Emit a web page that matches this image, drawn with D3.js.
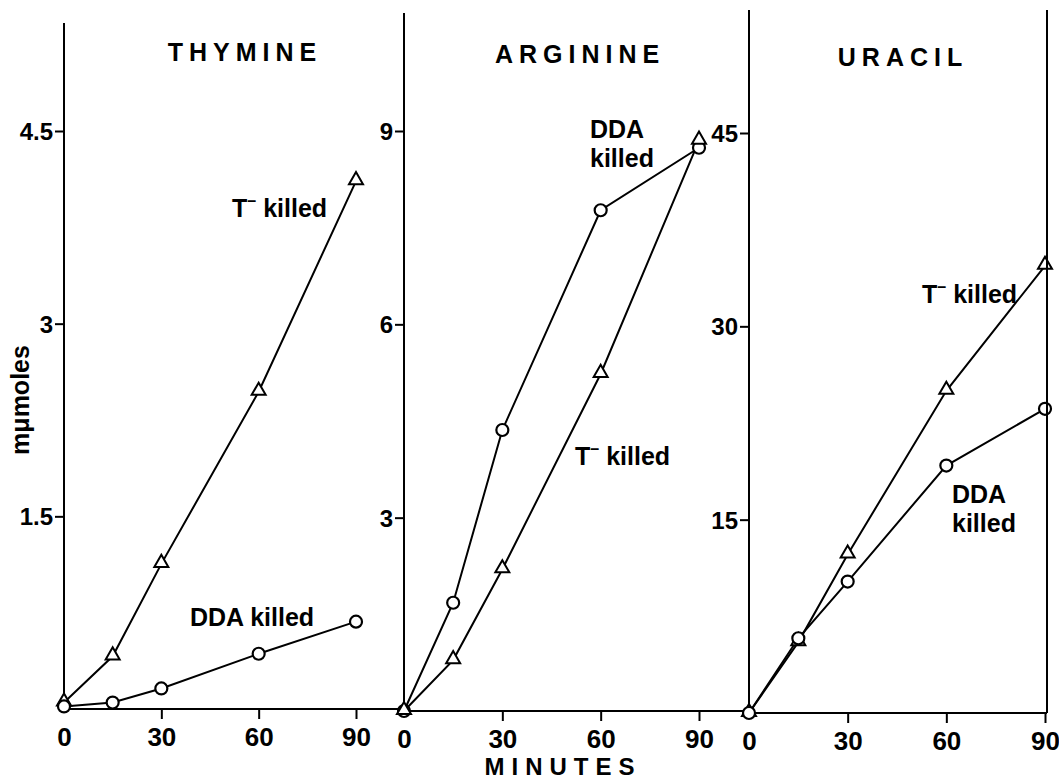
<!DOCTYPE html>
<html>
<head>
<meta charset="utf-8">
<script src="https://cdn.jsdelivr.net/npm/d3@7"></script>
<style>
  body { margin: 0; background: #fff; }
  svg text { font-family: "Liberation Sans", Arial, sans-serif; font-weight: bold; fill: #000; }
</style>
</head>
<body>
<script>
// minutes sampled
const minutes = [0, 15, 30, 60, 90];
const xTicks = [0, 30, 60, 90];

// THYMINE panel (mumoles)
const thymineT = [0.05, 0.41, 1.13, 2.47, 4.11];
const thymineDDA = [0.02, 0.05, 0.16, 0.43, 0.68];
const thymineTicks = [1.5, 3, 4.5];

// ARGININE panel
const arginineDDA = [0, 1.68, 4.36, 7.77, 8.74];
const arginineT = [0, 0.79, 2.2, 5.23, 8.85];
const arginineTicks = [3, 6, 9];

// URACIL panel
const uracilT = [0, 5.5, 12.3, 25.0, 34.7];
const uracilDDA = [0, 5.8, 10.2, 19.2, 23.6];
const uracilTicks = [15, 30, 45];

const W = 1059, H = 779;
const svg = d3.select("body").append("svg")
  .attr("width", W)
  .attr("height", H);

const panels = [
  {title: "THYMINE", titleX: 245, titleY: 61, x0: 64, x1: 356, y0: 709, yTop: 131, axTop: 23, max: 4.5,
   ticks: thymineTicks, fmt: d => d === 1.5 ? "1.5" : d3.format("")(d),
   series: [{vals: thymineT, mark: "tri"}, {vals: thymineDDA, mark: "circ"}],
   labels: [
     {lines: ["T|killed"], x: 232, y: 217},
     {lines: ["DDA killed"], x: 190, y: 626}
   ]},
  {title: "ARGININE", titleX: 580, titleY: 63, x0: 404, x1: 699, y0: 711, yTop: 131, axTop: 13, max: 9,
   ticks: arginineTicks, fmt: d3.format(""),
   series: [{vals: arginineDDA, mark: "circ"}, {vals: arginineT, mark: "tri"}],
   labels: [
     {lines: ["DDA", "killed"], x: 590, y: 138},
     {lines: ["T|killed"], x: 575, y: 465}
   ]},
  {title: "URACIL", titleX: 903, titleY: 66, x0: 749, x1: 1045, y0: 713, yTop: 133, axTop: 10, max: 45,
   ticks: uracilTicks, fmt: d3.format(""),
   series: [{vals: uracilT, mark: "tri"}, {vals: uracilDDA, mark: "circ"}],
   labels: [
     {lines: ["T|killed"], x: 922, y: 303},
     {lines: ["DDA", "killed"], x: 952, y: 503}
   ]}
];

panels.forEach((p, i) => {
  const x = d3.scaleLinear().domain([0, 90]).range([p.x0, p.x1]);
  const y = d3.scaleLinear().domain([0, p.max]).range([p.y0, p.yTop]);
  const g = svg.append("g");

  // y axis line, extended to the top of the frame
  g.append("line")
    .attr("x1", p.x0).attr("x2", p.x0)
    .attr("y1", p.y0).attr("y2", p.axTop)
    .attr("stroke", "#000").attr("stroke-width", 2);

  const yAxis = g.append("g")
    .attr("transform", `translate(${p.x0},0)`)
    .call(d3.axisLeft(y).tickValues(p.ticks).tickSize(9).tickPadding(2).tickFormat(p.fmt));
  yAxis.select(".domain").remove();
  yAxis.selectAll(".tick line").attr("stroke", "#000").attr("stroke-width", 2);
  yAxis.selectAll(".tick text")
    .style("font-size", "24px")
    .attr("dy", "0.36em");

  // x axis: baseline runs on to the next panel
  const xEnd = i < panels.length - 1 ? panels[i + 1].x0 : p.x1 + 2;
  g.append("line")
    .attr("x1", p.x0).attr("x2", xEnd)
    .attr("y1", p.y0).attr("y2", p.y0)
    .attr("stroke", "#000").attr("stroke-width", 2);

  const xAxis = g.append("g")
    .attr("transform", `translate(0,${p.y0})`)
    .call(d3.axisBottom(x).tickValues(xTicks).tickSize(10).tickPadding(9).tickFormat(d3.format("")));
  xAxis.select(".domain").remove();
  xAxis.selectAll(".tick line")
    .attr("stroke", d => d === 0 ? "none" : "#000")
    .attr("stroke-width", 2);
  xAxis.selectAll(".tick text").style("font-size", "26px");

  // title
  g.append("text")
    .attr("x", p.titleX).attr("y", p.titleY)
    .attr("text-anchor", "middle")
    .style("font-size", "25px")
    .style("letter-spacing", "6px")
    .text(p.title);

  // series
  const line = d3.line().x((d, j) => x(minutes[j])).y(d => y(d));
  p.series.forEach(s => {
    g.append("path")
      .datum(s.vals)
      .attr("d", line)
      .attr("fill", "none")
      .attr("stroke", "#000")
      .attr("stroke-width", 2);
  });
  p.series.forEach(s => {
    const pts = g.selectAll(null).data(s.vals).enter();
    if (s.mark === "circ") {
      pts.append("circle")
        .attr("cx", (d, j) => x(minutes[j]))
        .attr("cy", d => y(d))
        .attr("r", 6)
        .attr("fill", "#fff")
        .attr("stroke", "#000")
        .attr("stroke-width", 2.2);
    } else {
      pts.append("path")
        .attr("d", d3.symbol(d3.symbolTriangle, 85))
        .attr("transform", (d, j) => `translate(${x(minutes[j])},${y(d) - 1})`)
        .attr("fill", "#fff")
        .attr("stroke", "#000")
        .attr("stroke-width", 2);
    }
  });

  // curve labels
  p.labels.forEach(l => {
    l.lines.forEach((txt, k) => {
      const t = g.append("text")
        .attr("x", l.x).attr("y", l.y + k * 29)
        .style("font-size", "25px");
      if (txt.includes("|")) {
        const parts = txt.split("|");
        t.append("tspan").text(parts[0]);
        t.append("tspan").attr("dy", -11).style("font-size", "16px").text("\u2013");
        t.append("tspan").attr("dy", 11).attr("dx", 7).text(parts[1]);
      } else {
        t.text(txt);
      }
    });
  });
});

// right frame line of the last panel
svg.append("line")
  .attr("x1", 1047).attr("x2", 1047)
  .attr("y1", 10).attr("y2", 713)
  .attr("stroke", "#000").attr("stroke-width", 2);

// shared axis titles
svg.append("text")
  .attr("x", 563).attr("y", 775)
  .attr("text-anchor", "middle")
  .style("font-size", "24px")
  .style("letter-spacing", "7px")
  .text("MINUTES");

svg.append("text")
  .attr("transform", "translate(29,400) rotate(-90)")
  .attr("text-anchor", "middle")
  .style("font-size", "25px")
  .text("m\u03bcmoles");
</script>
</body>
</html>
